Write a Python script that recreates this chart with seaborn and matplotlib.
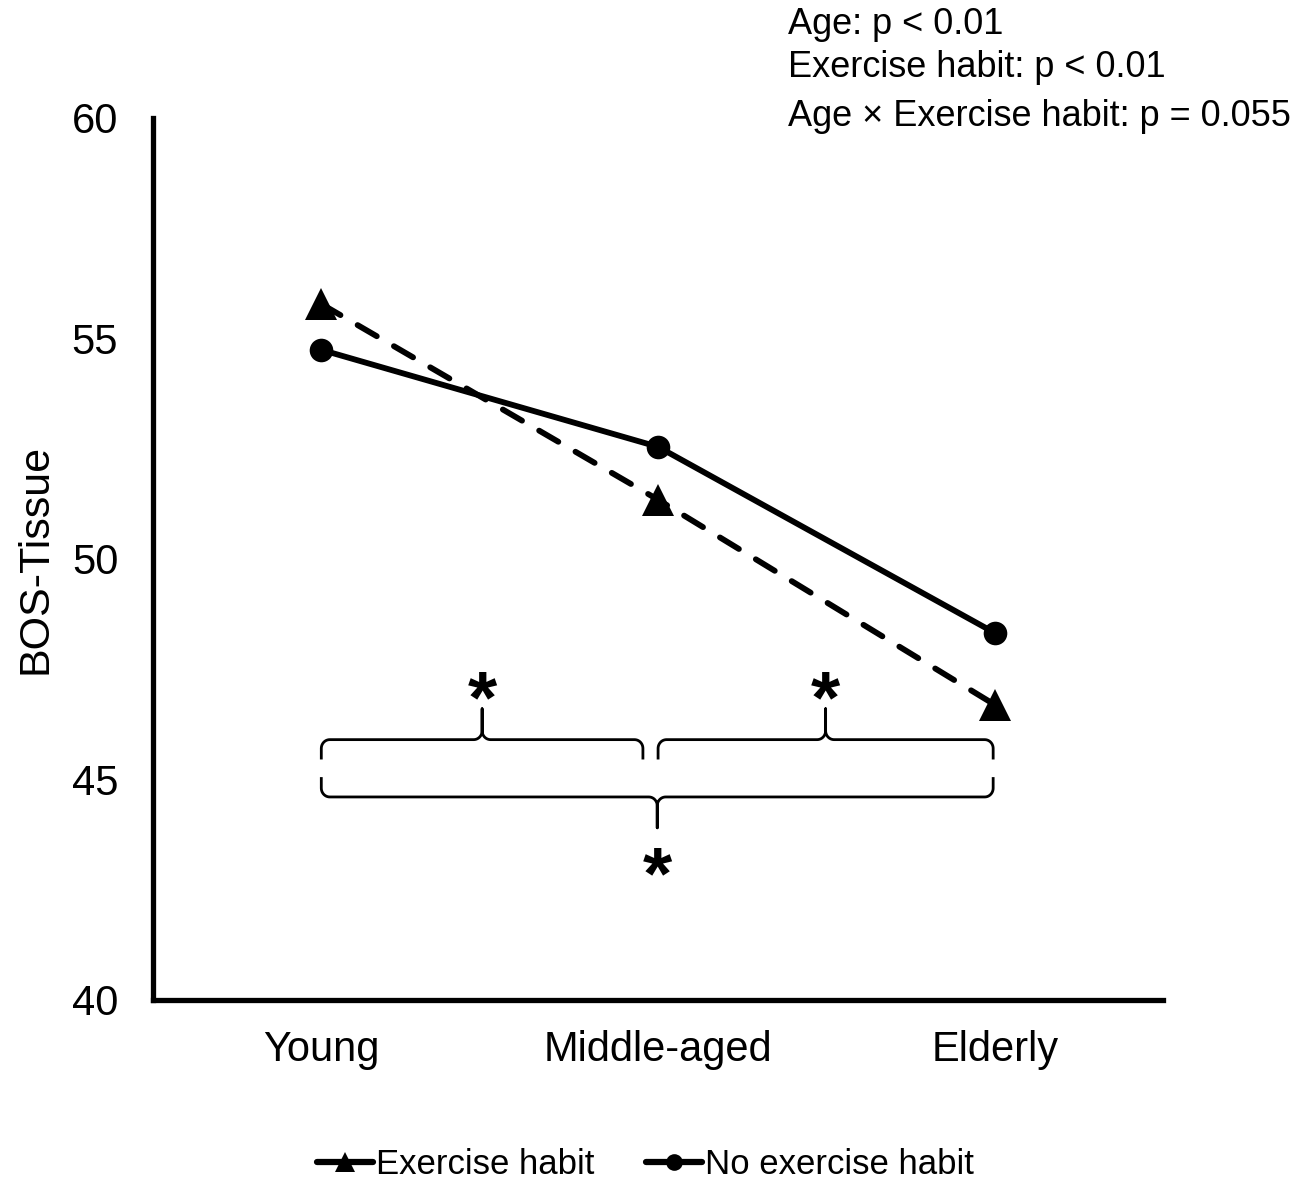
import numpy as np
import pandas as pd
import matplotlib
matplotlib.use("Agg")
import matplotlib.pyplot as plt
import seaborn as sns
from matplotlib.lines import Line2D

# values
ages = ["Young", "Middle-aged", "Elderly"]
exercise = [55.78, 51.34, 46.69]
no_exercise = [54.74, 52.54, 48.32]
groups = ["Exercise habit", "No exercise habit"]

# significance braces: (x start, x end, level, direction)
braces = [(0.0, 0.955, 45.9, 1), (1.0, 1.995, 45.9, 1), (0.0, 1.995, 44.6, -1)]

df = pd.DataFrame({
    "age": ages * 2,
    "value": exercise + no_exercise,
    "group": [groups[0]] * 3 + [groups[1]] * 3,
})

sns.set_style("white")
plt.rcParams["font.family"] = ["Liberation Sans", "DejaVu Sans"]
plt.rcParams.update({"text.color": "black", "axes.labelcolor": "black",
                     "xtick.color": "black", "ytick.color": "black"})

fig = plt.figure(figsize=(13.07, 11.79), dpi=100)
ax = fig.add_axes([0.117, 0.152, 0.773, 0.748])

sns.lineplot(data=df, x="age", y="value", hue="group", style="group",
             palette=["black", "black"],
             markers={groups[0]: "^", groups[1]: "o"},
             dashes={groups[0]: (3.8, 3.4), groups[1]: ""},
             linewidth=4.2, markersize=17, markeredgewidth=0,
             legend=False, ax=ax)
for ln in ax.lines:
    ln.set_dash_capstyle("round")
ax.lines[0].set_markersize(23)

ax.set_xlim(-0.5, 2.5)
ax.set_ylim(40, 60)
ax.set_yticks([40, 45, 50, 55, 60])
ax.set_xlabel("")
ax.set_ylabel("BOS-Tissue", fontsize=31, labelpad=12)
ax.tick_params(axis="both", length=0, labelsize=30)
ax.tick_params(axis="y", pad=25)
ax.tick_params(axis="x", pad=22)
for s in ["top", "right"]:
    ax.spines[s].set_visible(False)
for s in ["left", "bottom"]:
    ax.spines[s].set_linewidth(3.8)
    ax.spines[s].set_color("black")


def brace(x0, x1, yh, d, rx=0.025, ry=0.2, end=0.45, tip=0.7):
    xm = (x0 + x1) / 2
    t = np.linspace(0, np.pi / 2, 12)
    xs = [x0]
    ys = [yh - d * end]
    xs += list(x0 + rx - rx * np.cos(t))
    ys += list(yh - d * ry + d * ry * np.sin(t))
    xs += list(xm - rx + rx * np.sin(t))
    ys += list(yh + d * ry - d * ry * np.cos(t))
    xs += [xm]
    ys += [yh + d * tip]
    xs = np.array(xs)
    ys = np.array(ys)
    fx = np.concatenate([xs, (2 * xm - xs)[::-1]])
    fy = np.concatenate([ys, ys[::-1]])
    ax.plot(fx, fy, color="black", lw=2.0, solid_capstyle="butt", clip_on=False)
    return xm, yh + d * tip


for x0, x1, yh, d in braces:
    xm, ytip = brace(x0, x1, yh, d)
    ax.text(xm, ytip + (-0.3 if d > 0 else -1.59), "*", fontsize=54,
            fontweight="bold", ha="center", va="baseline")

fig.text(0.603, 0.979, "Age: p < 0.01", fontsize=26, ha="left", va="center")
fig.text(0.603, 0.943, "Exercise habit: p < 0.01", fontsize=26, ha="left", va="center")
fig.text(0.603, 0.901, "Age \u00d7 Exercise habit: p = 0.055", fontsize=26,
         ha="left", va="center")

handles = [
    Line2D([], [], color="black", lw=4.5, marker="^", markersize=14, markeredgewidth=0),
    Line2D([], [], color="black", lw=4.5, marker="o", markersize=12, markeredgewidth=0),
]
fig.legend(handles, groups, loc="center", bbox_to_anchor=(0.494, 0.012),
           ncol=2, frameon=False, fontsize=25, handlelength=1.6,
           handletextpad=0.1, columnspacing=1.5)

fig.savefig("out.png", dpi=100)
